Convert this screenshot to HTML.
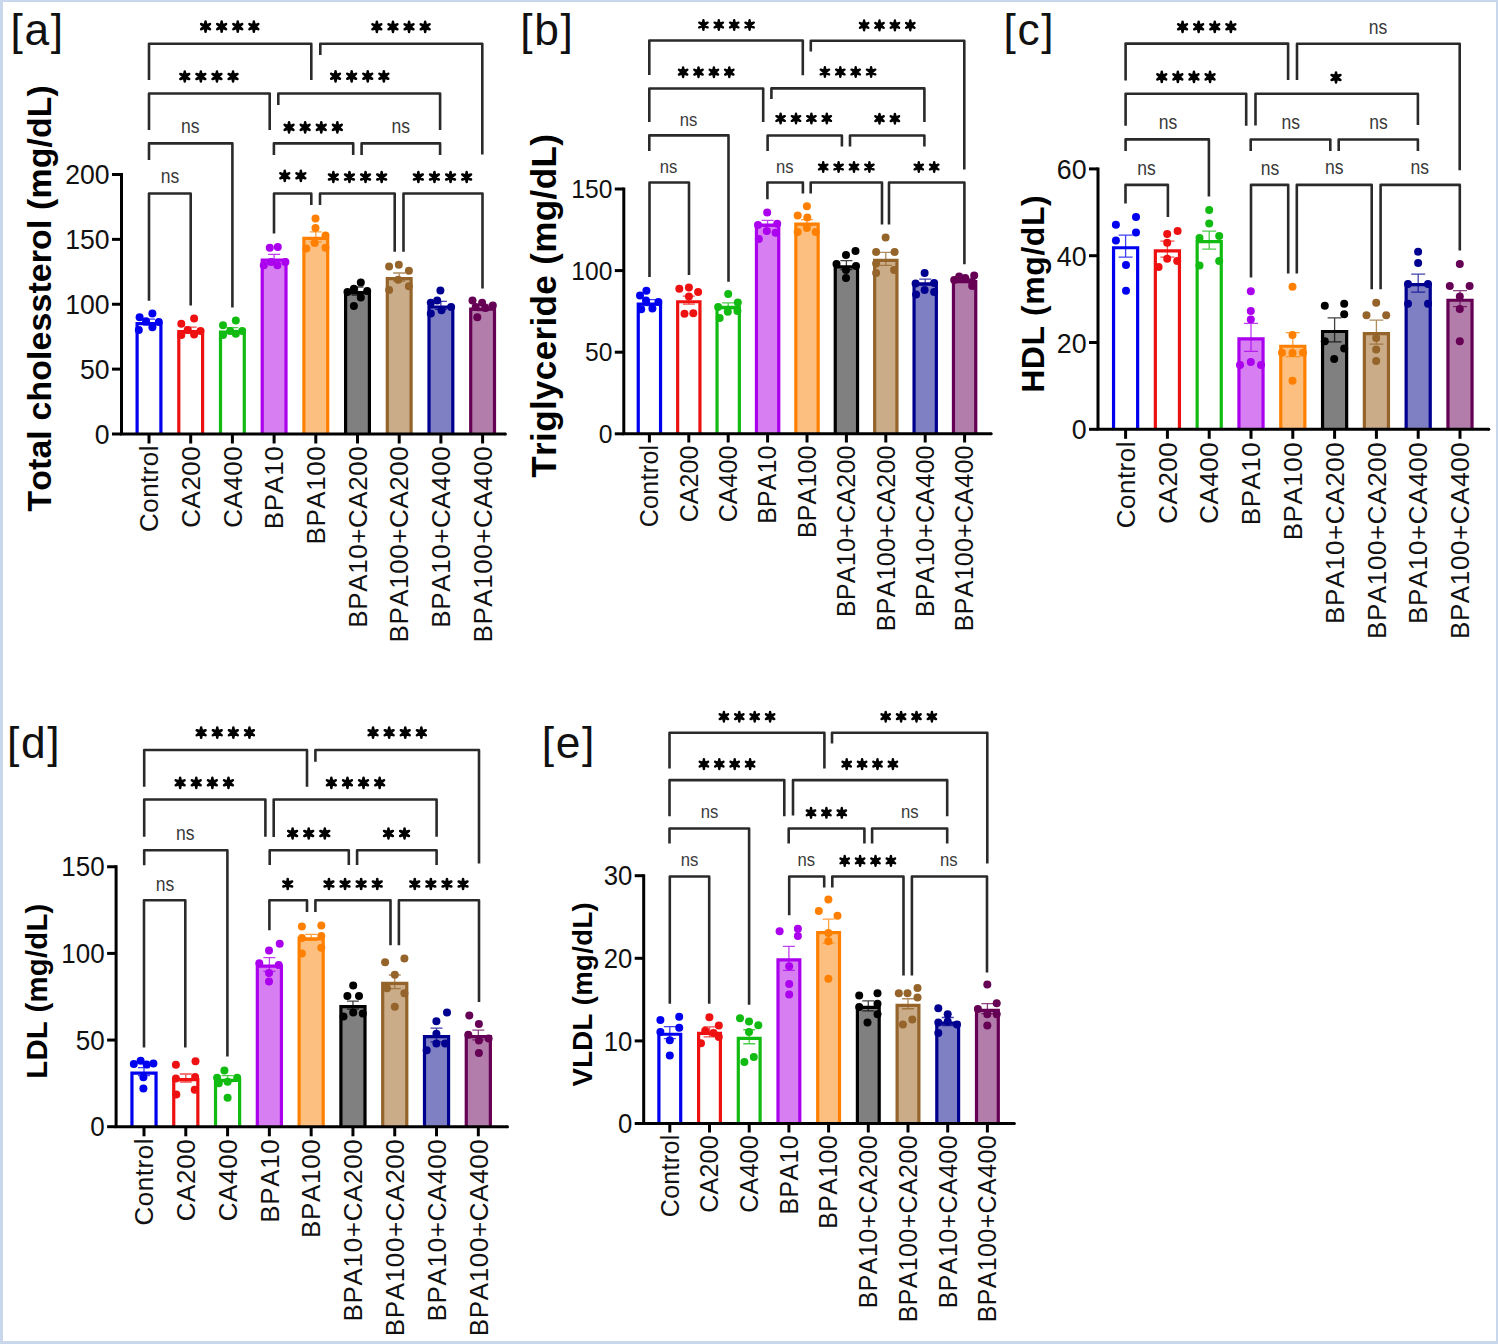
<!DOCTYPE html>
<html><head><meta charset="utf-8"><title>Lipid profile</title>
<style>
html,body{margin:0;padding:0;background:#fff;}
body{width:1498px;height:1344px;overflow:hidden;}
.frame{position:absolute;left:0;top:0;width:1498px;height:1344px;box-sizing:border-box;border-style:solid;border-color:#c8d7ec;border-width:2px 2px 3px 3px;background:#fff;}
svg{position:absolute;left:0;top:0;}
.wrap{position:absolute;left:0;top:0;width:1498px;height:1344px;}
svg text{font-family:'Liberation Sans', sans-serif;font-kerning:none;}
</style></head>
<body>
<div class="frame"></div>
<div class="wrap"><svg width="1498" height="1344" viewBox="0 0 1498 1344" font-family="'Liberation Sans', sans-serif">
<defs><path id="st100" d="M2.25,0.00L1.25,-5.10L-1.25,-5.10L-2.25,-0.00ZM-1.25,-5.10a1.25,1.25 0 1,0 2.50,0a1.25,1.25 0 1,0 -2.50,0ZM1.12,1.95L5.04,-1.47L3.79,-3.63L-1.12,-1.95ZM3.17,-2.55a1.25,1.25 0 1,0 2.50,0a1.25,1.25 0 1,0 -2.50,0ZM-1.12,1.95L3.79,3.63L5.04,1.47L1.12,-1.95ZM3.17,2.55a1.25,1.25 0 1,0 2.50,0a1.25,1.25 0 1,0 -2.50,0ZM-2.25,0.00L-1.25,5.10L1.25,5.10L2.25,-0.00ZM-1.25,5.10a1.25,1.25 0 1,0 2.50,0a1.25,1.25 0 1,0 -2.50,0ZM-1.12,-1.95L-5.04,1.47L-3.79,3.63L1.12,1.95ZM-5.67,2.55a1.25,1.25 0 1,0 2.50,0a1.25,1.25 0 1,0 -2.50,0ZM1.12,-1.95L-3.79,-3.63L-5.04,-1.47L-1.12,1.95ZM-5.67,-2.55a1.25,1.25 0 1,0 2.50,0a1.25,1.25 0 1,0 -2.50,0ZM-2.25,0.00a2.25,2.25 0 1,0 4.50,0a2.25,2.25 0 1,0 -4.50,0Z" fill="#000"/><path id="st95" d="M2.14,0.00L1.19,-4.84L-1.19,-4.84L-2.14,-0.00ZM-1.19,-4.84a1.19,1.19 0 1,0 2.38,0a1.19,1.19 0 1,0 -2.38,0ZM1.07,1.85L4.79,-1.39L3.60,-3.45L-1.07,-1.85ZM3.01,-2.42a1.19,1.19 0 1,0 2.38,0a1.19,1.19 0 1,0 -2.38,0ZM-1.07,1.85L3.60,3.45L4.79,1.39L1.07,-1.85ZM3.01,2.42a1.19,1.19 0 1,0 2.38,0a1.19,1.19 0 1,0 -2.38,0ZM-2.14,0.00L-1.19,4.84L1.19,4.84L2.14,-0.00ZM-1.19,4.84a1.19,1.19 0 1,0 2.38,0a1.19,1.19 0 1,0 -2.38,0ZM-1.07,-1.85L-4.79,1.39L-3.60,3.45L1.07,1.85ZM-5.38,2.42a1.19,1.19 0 1,0 2.38,0a1.19,1.19 0 1,0 -2.38,0ZM1.07,-1.85L-3.60,-3.45L-4.79,-1.39L-1.07,1.85ZM-5.38,-2.42a1.19,1.19 0 1,0 2.38,0a1.19,1.19 0 1,0 -2.38,0ZM-2.14,0.00a2.14,2.14 0 1,0 4.27,0a2.14,2.14 0 1,0 -4.27,0Z" fill="#000"/></defs>
<rect x="137.10" y="323.63" width="23.80" height="110.37" fill="#ffffff"/>
<path d="M137.10,434V323.63H160.90V434" fill="none" stroke="#0000f0" stroke-width="3.2" stroke-linejoin="miter"/>
<rect x="178.80" y="331.67" width="23.80" height="102.33" fill="#ffffff"/>
<path d="M178.80,434V331.67H202.60V434" fill="none" stroke="#ee1111" stroke-width="3.2" stroke-linejoin="miter"/>
<rect x="220.50" y="332.19" width="23.80" height="101.81" fill="#ffffff"/>
<path d="M220.50,434V332.19H244.30V434" fill="none" stroke="#11bb11" stroke-width="3.2" stroke-linejoin="miter"/>
<rect x="262.20" y="260.05" width="23.80" height="173.95" fill="#d77ff2"/>
<path d="M262.20,434V260.05H286.00V434" fill="none" stroke="#aa00ee" stroke-width="3.2" stroke-linejoin="miter"/>
<rect x="303.90" y="238.38" width="23.80" height="195.62" fill="#fdbf80"/>
<path d="M303.90,434V238.38H327.70V434" fill="none" stroke="#ff8000" stroke-width="3.2" stroke-linejoin="miter"/>
<rect x="345.60" y="292.62" width="23.80" height="141.38" fill="#808080"/>
<path d="M345.60,434V292.62H369.40V434" fill="none" stroke="#000000" stroke-width="3.2" stroke-linejoin="miter"/>
<rect x="387.30" y="278.60" width="23.80" height="155.40" fill="#caac89"/>
<path d="M387.30,434V278.60H411.10V434" fill="none" stroke="#94642a" stroke-width="3.2" stroke-linejoin="miter"/>
<rect x="429.00" y="307.02" width="23.80" height="126.98" fill="#7f7fc4"/>
<path d="M429.00,434V307.02H452.80V434" fill="none" stroke="#000090" stroke-width="3.2" stroke-linejoin="miter"/>
<rect x="470.70" y="309.09" width="23.80" height="124.91" fill="#b27daa"/>
<path d="M470.70,434V309.09H494.50V434" fill="none" stroke="#660055" stroke-width="3.2" stroke-linejoin="miter"/>
<path d="M149.0,319.02575V325.02575M143.0,319.02575H155.0M143.0,325.02575H155.0" stroke="#0000f0" stroke-width="1.3" fill="none" opacity="0.75"/>
<circle cx="139.6" cy="317.2" r="4.0" fill="#0000f0"/>
<circle cx="152.4" cy="313.6" r="4.0" fill="#0000f0"/>
<circle cx="158.8" cy="322.0" r="4.0" fill="#0000f0"/>
<circle cx="138.8" cy="330.0" r="4.0" fill="#0000f0"/>
<circle cx="152.4" cy="327.3" r="4.0" fill="#0000f0"/>
<circle cx="146.0" cy="321.3" r="4.0" fill="#0000f0"/>
<path d="M190.7,327.07025V333.07025M184.7,327.07025H196.7M184.7,333.07025H196.7" stroke="#ee1111" stroke-width="1.3" fill="none" opacity="0.75"/>
<circle cx="181.3" cy="323.7" r="4.0" fill="#ee1111"/>
<circle cx="194.1" cy="318.4" r="4.0" fill="#ee1111"/>
<circle cx="187.7" cy="330.0" r="4.0" fill="#ee1111"/>
<circle cx="200.5" cy="330.9" r="4.0" fill="#ee1111"/>
<circle cx="181.3" cy="334.9" r="4.0" fill="#ee1111"/>
<circle cx="194.1" cy="334.5" r="4.0" fill="#ee1111"/>
<path d="M232.4,327.58925V333.58925M226.4,327.58925H238.4M226.4,333.58925H238.4" stroke="#11bb11" stroke-width="1.3" fill="none" opacity="0.75"/>
<circle cx="223.0" cy="325.3" r="4.0" fill="#11bb11"/>
<circle cx="235.8" cy="320.4" r="4.0" fill="#11bb11"/>
<circle cx="242.2" cy="330.9" r="4.0" fill="#11bb11"/>
<circle cx="223.0" cy="334.9" r="4.0" fill="#11bb11"/>
<circle cx="235.8" cy="333.7" r="4.0" fill="#11bb11"/>
<circle cx="230.2" cy="330.9" r="4.0" fill="#11bb11"/>
<path d="M274.1,254.44824999999997V262.44825M268.1,254.44824999999997H280.1M268.1,262.44825H280.1" stroke="#aa00ee" stroke-width="1.3" fill="none" opacity="0.75"/>
<circle cx="269.8" cy="247.7" r="4.0" fill="#aa00ee"/>
<circle cx="277.8" cy="246.9" r="4.0" fill="#aa00ee"/>
<circle cx="263.8" cy="265.3" r="4.0" fill="#aa00ee"/>
<circle cx="277.4" cy="265.3" r="4.0" fill="#aa00ee"/>
<circle cx="285.4" cy="262.0" r="4.0" fill="#aa00ee"/>
<circle cx="271.0" cy="262.0" r="4.0" fill="#aa00ee"/>
<path d="M315.8,231.77999999999997V241.77999999999997M309.8,231.77999999999997H321.8M309.8,241.77999999999997H321.8" stroke="#ff8000" stroke-width="1.3" fill="none" opacity="0.75"/>
<circle cx="315.5" cy="218.4" r="4.0" fill="#ff8000"/>
<circle cx="315.5" cy="228.0" r="4.0" fill="#ff8000"/>
<circle cx="325.5" cy="235.6" r="4.0" fill="#ff8000"/>
<circle cx="314.7" cy="242.9" r="4.0" fill="#ff8000"/>
<circle cx="306.3" cy="248.5" r="4.0" fill="#ff8000"/>
<circle cx="325.5" cy="247.7" r="4.0" fill="#ff8000"/>
<path d="M357.5,287.0155V295.0155M351.5,287.0155H363.5M351.5,295.0155H363.5" stroke="#000000" stroke-width="1.3" fill="none" opacity="0.75"/>
<circle cx="360.8" cy="282.4" r="4.0" fill="#000000"/>
<circle cx="347.5" cy="292.0" r="4.0" fill="#000000"/>
<circle cx="353.9" cy="288.8" r="4.0" fill="#000000"/>
<circle cx="367.2" cy="291.0" r="4.0" fill="#000000"/>
<circle cx="360.8" cy="297.4" r="4.0" fill="#000000"/>
<circle cx="353.9" cy="306.0" r="4.0" fill="#000000"/>
<path d="M399.20000000000005,273.0025V281.0025M393.20000000000005,273.0025H405.20000000000005M393.20000000000005,281.0025H405.20000000000005" stroke="#94642a" stroke-width="1.3" fill="none" opacity="0.75"/>
<circle cx="389.1" cy="266.4" r="4.0" fill="#94642a"/>
<circle cx="398.8" cy="264.8" r="4.0" fill="#94642a"/>
<circle cx="408.9" cy="270.7" r="4.0" fill="#94642a"/>
<circle cx="398.2" cy="279.8" r="4.0" fill="#94642a"/>
<circle cx="389.1" cy="289.9" r="4.0" fill="#94642a"/>
<circle cx="408.9" cy="286.2" r="4.0" fill="#94642a"/>
<path d="M440.90000000000003,301.41774999999996V309.41774999999996M434.90000000000003,301.41774999999996H446.90000000000003M434.90000000000003,309.41774999999996H446.90000000000003" stroke="#000090" stroke-width="1.3" fill="none" opacity="0.75"/>
<circle cx="440.4" cy="290.4" r="4.0" fill="#000090"/>
<circle cx="437.2" cy="300.6" r="4.0" fill="#000090"/>
<circle cx="430.8" cy="302.7" r="4.0" fill="#000090"/>
<circle cx="451.1" cy="307.0" r="4.0" fill="#000090"/>
<circle cx="430.8" cy="313.4" r="4.0" fill="#000090"/>
<circle cx="441.5" cy="310.2" r="4.0" fill="#000090"/>
<path d="M482.6,304.49375V310.49375M476.6,304.49375H488.6M476.6,310.49375H488.6" stroke="#660055" stroke-width="1.3" fill="none" opacity="0.75"/>
<circle cx="472.5" cy="300.6" r="4.0" fill="#660055"/>
<circle cx="482.1" cy="302.7" r="4.0" fill="#660055"/>
<circle cx="492.8" cy="305.4" r="4.0" fill="#660055"/>
<circle cx="475.7" cy="307.0" r="4.0" fill="#660055"/>
<circle cx="485.3" cy="308.1" r="4.0" fill="#660055"/>
<circle cx="477.3" cy="317.2" r="4.0" fill="#660055"/>
<path d="M121.5,173.00V434H505.4" stroke="#000" stroke-width="3.0" fill="none" stroke-linecap="butt" stroke-linejoin="miter"/>
<circle cx="505.4" cy="434" r="1.5" fill="#000"/>
<path d="M112.0,434.00H121.5" stroke="#000" stroke-width="3.0"/>
<text transform="translate(109.6,434.00) scale(1,1.05)" y="9.47" font-size="26.6" text-anchor="end" fill="#111">0</text>
<path d="M112.0,369.12H121.5" stroke="#000" stroke-width="3.0"/>
<text transform="translate(109.6,369.12) scale(1,1.05)" y="9.47" font-size="26.6" text-anchor="end" fill="#111">50</text>
<path d="M112.0,304.25H121.5" stroke="#000" stroke-width="3.0"/>
<text transform="translate(109.6,304.25) scale(1,1.05)" y="9.47" font-size="26.6" text-anchor="end" fill="#111">100</text>
<path d="M112.0,239.37H121.5" stroke="#000" stroke-width="3.0"/>
<text transform="translate(109.6,239.37) scale(1,1.05)" y="9.47" font-size="26.6" text-anchor="end" fill="#111">150</text>
<path d="M112.0,174.50H121.5" stroke="#000" stroke-width="3.0"/>
<text transform="translate(109.6,174.50) scale(1,1.05)" y="9.47" font-size="26.6" text-anchor="end" fill="#111">200</text>
<path d="M149.0,434V443.5" stroke="#000" stroke-width="3.0"/>
<text transform="translate(158.23,488.68) rotate(-90)" font-size="26" text-anchor="middle" textLength="86.45" lengthAdjust="spacing" fill="#111">Control</text>
<path d="M190.7,434V443.5" stroke="#000" stroke-width="3.0"/>
<text transform="translate(199.93,486.95) rotate(-90)" font-size="26" text-anchor="middle" textLength="81.51" lengthAdjust="spacing" fill="#111">CA200</text>
<path d="M232.4,434V443.5" stroke="#000" stroke-width="3.0"/>
<text transform="translate(241.63,486.95) rotate(-90)" font-size="26" text-anchor="middle" textLength="81.51" lengthAdjust="spacing" fill="#111">CA400</text>
<path d="M274.1,434V443.5" stroke="#000" stroke-width="3.0"/>
<text transform="translate(283.33,487.67) rotate(-90)" font-size="26" text-anchor="middle" textLength="82.95" lengthAdjust="spacing" fill="#111">BPA10</text>
<path d="M315.8,434V443.5" stroke="#000" stroke-width="3.0"/>
<text transform="translate(325.03,495.37) rotate(-90)" font-size="26" text-anchor="middle" textLength="98.35" lengthAdjust="spacing" fill="#111">BPA100</text>
<path d="M357.5,434V443.5" stroke="#000" stroke-width="3.0"/>
<text transform="translate(366.73,536.92) rotate(-90)" font-size="26" text-anchor="middle" textLength="181.45" lengthAdjust="spacing" fill="#111">BPA10+CA200</text>
<path d="M399.20000000000005,434V443.5" stroke="#000" stroke-width="3.0"/>
<text transform="translate(408.43,544.32) rotate(-90)" font-size="26" text-anchor="middle" textLength="196.25" lengthAdjust="spacing" fill="#111">BPA100+CA200</text>
<path d="M440.90000000000003,434V443.5" stroke="#000" stroke-width="3.0"/>
<text transform="translate(450.13,536.92) rotate(-90)" font-size="26" text-anchor="middle" textLength="181.45" lengthAdjust="spacing" fill="#111">BPA10+CA400</text>
<path d="M482.6,434V443.5" stroke="#000" stroke-width="3.0"/>
<text transform="translate(491.83,544.32) rotate(-90)" font-size="26" text-anchor="middle" textLength="196.25" lengthAdjust="spacing" fill="#111">BPA100+CA400</text>
<text transform="translate(50.70,298.36) rotate(-90)" font-size="33.8" font-weight="bold" text-anchor="middle" textLength="426.53" lengthAdjust="spacing" fill="#000">Total cholessterol (mg/dL)</text>
<text x="10.6" y="44.7" font-size="44.3" letter-spacing="1.6" fill="#111">[a]</text>
<path d="M149,80V43.7H311.3V80" stroke="#2a2a2a" stroke-width="2.6" fill="none" stroke-linejoin="round"/>
<use href="#st100" x="205.55" y="26.60"/>
<use href="#st100" x="221.65" y="26.60"/>
<use href="#st100" x="237.75" y="26.60"/>
<use href="#st100" x="253.85" y="26.60"/>
<path d="M320.3,54.9V43.7H482.3V154.4" stroke="#2a2a2a" stroke-width="2.6" fill="none" stroke-linejoin="round"/>
<use href="#st100" x="376.85" y="26.80"/>
<use href="#st100" x="392.95" y="26.80"/>
<use href="#st100" x="409.05" y="26.80"/>
<use href="#st100" x="425.15" y="26.80"/>
<path d="M149,130V93.5H269.7V130" stroke="#2a2a2a" stroke-width="2.6" fill="none" stroke-linejoin="round"/>
<use href="#st100" x="184.75" y="76.50"/>
<use href="#st100" x="200.85" y="76.50"/>
<use href="#st100" x="216.95" y="76.50"/>
<use href="#st100" x="233.05" y="76.50"/>
<path d="M278.3,105V93.5H440.1V130" stroke="#2a2a2a" stroke-width="2.6" fill="none" stroke-linejoin="round"/>
<use href="#st100" x="335.55" y="76.30"/>
<use href="#st100" x="351.65" y="76.30"/>
<use href="#st100" x="367.75" y="76.30"/>
<use href="#st100" x="383.85" y="76.30"/>
<path d="M149,160V143.4H232.4V307.5" stroke="#2a2a2a" stroke-width="2.6" fill="none" stroke-linejoin="round"/>
<text x="190.3" y="133.1" font-size="19.5" text-anchor="middle" textLength="18.52" lengthAdjust="spacingAndGlyphs" fill="#383838">ns</text>
<path d="M273.9,155V143.4H353.2V155" stroke="#2a2a2a" stroke-width="2.6" fill="none" stroke-linejoin="round"/>
<use href="#st100" x="289.05" y="127.40"/>
<use href="#st100" x="305.15" y="127.40"/>
<use href="#st100" x="321.25" y="127.40"/>
<use href="#st100" x="337.35" y="127.40"/>
<path d="M361.6,155V143.4H440.1V155" stroke="#2a2a2a" stroke-width="2.6" fill="none" stroke-linejoin="round"/>
<text x="400.7" y="133.4" font-size="19.5" text-anchor="middle" textLength="18.52" lengthAdjust="spacingAndGlyphs" fill="#383838">ns</text>
<path d="M149,300.8V193.5H190.7V305.5" stroke="#2a2a2a" stroke-width="2.6" fill="none" stroke-linejoin="round"/>
<text x="170.0" y="182.9" font-size="19.5" text-anchor="middle" textLength="18.52" lengthAdjust="spacingAndGlyphs" fill="#383838">ns</text>
<path d="M274,233.4V193.5H311.3V205" stroke="#2a2a2a" stroke-width="2.6" fill="none" stroke-linejoin="round"/>
<use href="#st100" x="284.75" y="175.80"/>
<use href="#st100" x="300.85" y="175.80"/>
<path d="M320,205V193.5H394.7V251.8" stroke="#2a2a2a" stroke-width="2.6" fill="none" stroke-linejoin="round"/>
<use href="#st100" x="333.35" y="177.00"/>
<use href="#st100" x="349.45" y="177.00"/>
<use href="#st100" x="365.55" y="177.00"/>
<use href="#st100" x="381.65" y="177.00"/>
<path d="M403.5,251.8V193.5H482.5V288.4" stroke="#2a2a2a" stroke-width="2.6" fill="none" stroke-linejoin="round"/>
<use href="#st100" x="418.35" y="177.00"/>
<use href="#st100" x="434.45" y="177.00"/>
<use href="#st100" x="450.55" y="177.00"/>
<use href="#st100" x="466.65" y="177.00"/>
<rect x="638.25" y="304.19" width="22.30" height="129.61" fill="#ffffff"/>
<path d="M638.25,433.8V304.19H660.55V433.8" fill="none" stroke="#0000f0" stroke-width="3.2" stroke-linejoin="miter"/>
<rect x="677.65" y="301.74" width="22.30" height="132.06" fill="#ffffff"/>
<path d="M677.65,433.8V301.74H699.95V433.8" fill="none" stroke="#ee1111" stroke-width="3.2" stroke-linejoin="miter"/>
<rect x="717.05" y="307.45" width="22.30" height="126.35" fill="#ffffff"/>
<path d="M717.05,433.8V307.45H739.35V433.8" fill="none" stroke="#11bb11" stroke-width="3.2" stroke-linejoin="miter"/>
<rect x="756.45" y="225.04" width="22.30" height="208.76" fill="#d77ff2"/>
<path d="M756.45,433.8V225.04H778.75V433.8" fill="none" stroke="#aa00ee" stroke-width="3.2" stroke-linejoin="miter"/>
<rect x="795.85" y="224.22" width="22.30" height="209.58" fill="#fdbf80"/>
<path d="M795.85,433.8V224.22H818.15V433.8" fill="none" stroke="#ff8000" stroke-width="3.2" stroke-linejoin="miter"/>
<rect x="835.25" y="266.81" width="22.30" height="166.99" fill="#808080"/>
<path d="M835.25,433.8V266.81H857.55V433.8" fill="none" stroke="#000000" stroke-width="3.2" stroke-linejoin="miter"/>
<rect x="874.65" y="260.45" width="22.30" height="173.35" fill="#caac89"/>
<path d="M874.65,433.8V260.45H896.95V433.8" fill="none" stroke="#94642a" stroke-width="3.2" stroke-linejoin="miter"/>
<rect x="914.05" y="283.79" width="22.30" height="150.01" fill="#7f7fc4"/>
<path d="M914.05,433.8V283.79H936.35V433.8" fill="none" stroke="#000090" stroke-width="3.2" stroke-linejoin="miter"/>
<rect x="953.45" y="281.67" width="22.30" height="152.13" fill="#b27daa"/>
<path d="M953.45,433.8V281.67H975.75V433.8" fill="none" stroke="#660055" stroke-width="3.2" stroke-linejoin="miter"/>
<path d="M649.4,299.58720000000005V305.58720000000005M643.4,299.58720000000005H655.4M643.4,305.58720000000005H655.4" stroke="#0000f0" stroke-width="1.3" fill="none" opacity="0.75"/>
<circle cx="646.4" cy="290.8" r="4.0" fill="#0000f0"/>
<circle cx="640.0" cy="295.6" r="4.0" fill="#0000f0"/>
<circle cx="646.0" cy="300.4" r="4.0" fill="#0000f0"/>
<circle cx="658.4" cy="302.0" r="4.0" fill="#0000f0"/>
<circle cx="641.2" cy="309.3" r="4.0" fill="#0000f0"/>
<circle cx="652.4" cy="308.5" r="4.0" fill="#0000f0"/>
<path d="M688.8,296.1392V304.1392M682.8,296.1392H694.8M682.8,304.1392H694.8" stroke="#ee1111" stroke-width="1.3" fill="none" opacity="0.75"/>
<circle cx="679.3" cy="288.8" r="4.0" fill="#ee1111"/>
<circle cx="688.9" cy="287.6" r="4.0" fill="#ee1111"/>
<circle cx="698.1" cy="292.0" r="4.0" fill="#ee1111"/>
<circle cx="688.9" cy="296.4" r="4.0" fill="#ee1111"/>
<circle cx="684.5" cy="313.7" r="4.0" fill="#ee1111"/>
<circle cx="693.3" cy="313.3" r="4.0" fill="#ee1111"/>
<path d="M728.1999999999999,302.8512V308.8512M722.1999999999999,302.8512H734.1999999999999M722.1999999999999,308.8512H734.1999999999999" stroke="#11bb11" stroke-width="1.3" fill="none" opacity="0.75"/>
<circle cx="728.2" cy="294.0" r="4.0" fill="#11bb11"/>
<circle cx="737.8" cy="302.5" r="4.0" fill="#11bb11"/>
<circle cx="718.1" cy="306.9" r="4.0" fill="#11bb11"/>
<circle cx="727.8" cy="311.7" r="4.0" fill="#11bb11"/>
<circle cx="737.4" cy="310.9" r="4.0" fill="#11bb11"/>
<circle cx="719.7" cy="318.1" r="4.0" fill="#11bb11"/>
<path d="M767.5999999999999,220.4352V226.4352M761.5999999999999,220.4352H773.5999999999999M761.5999999999999,226.4352H773.5999999999999" stroke="#aa00ee" stroke-width="1.3" fill="none" opacity="0.75"/>
<circle cx="767.2" cy="212.6" r="4.0" fill="#aa00ee"/>
<circle cx="758.0" cy="225.0" r="4.0" fill="#aa00ee"/>
<circle cx="777.2" cy="223.8" r="4.0" fill="#aa00ee"/>
<circle cx="766.8" cy="231.1" r="4.0" fill="#aa00ee"/>
<circle cx="775.6" cy="232.7" r="4.0" fill="#aa00ee"/>
<circle cx="758.8" cy="239.1" r="4.0" fill="#aa00ee"/>
<path d="M807.0,219.6192V225.6192M801.0,219.6192H813.0M801.0,225.6192H813.0" stroke="#ff8000" stroke-width="1.3" fill="none" opacity="0.75"/>
<circle cx="806.9" cy="206.2" r="4.0" fill="#ff8000"/>
<circle cx="797.7" cy="215.4" r="4.0" fill="#ff8000"/>
<circle cx="807.3" cy="217.4" r="4.0" fill="#ff8000"/>
<circle cx="806.9" cy="227.9" r="4.0" fill="#ff8000"/>
<circle cx="797.7" cy="231.9" r="4.0" fill="#ff8000"/>
<circle cx="815.7" cy="231.9" r="4.0" fill="#ff8000"/>
<path d="M846.4,260.71440000000007V269.71440000000007M840.4,260.71440000000007H852.4M840.4,269.71440000000007H852.4" stroke="#000000" stroke-width="1.3" fill="none" opacity="0.75"/>
<circle cx="846.0" cy="255.0" r="4.0" fill="#000000"/>
<circle cx="855.5" cy="251.0" r="4.0" fill="#000000"/>
<circle cx="836.5" cy="264.0" r="4.0" fill="#000000"/>
<circle cx="846.0" cy="270.0" r="4.0" fill="#000000"/>
<circle cx="846.0" cy="278.1" r="4.0" fill="#000000"/>
<circle cx="856.0" cy="266.0" r="4.0" fill="#000000"/>
<path d="M885.8,252.3496V265.3496M879.8,252.3496H891.8M879.8,265.3496H891.8" stroke="#94642a" stroke-width="1.3" fill="none" opacity="0.75"/>
<circle cx="885.6" cy="237.5" r="4.0" fill="#94642a"/>
<circle cx="876.1" cy="252.0" r="4.0" fill="#94642a"/>
<circle cx="894.6" cy="252.0" r="4.0" fill="#94642a"/>
<circle cx="876.1" cy="263.5" r="4.0" fill="#94642a"/>
<circle cx="894.1" cy="270.0" r="4.0" fill="#94642a"/>
<circle cx="876.1" cy="273.0" r="4.0" fill="#94642a"/>
<path d="M925.2,279.1872V285.1872M919.2,279.1872H931.2M919.2,285.1872H931.2" stroke="#000090" stroke-width="1.3" fill="none" opacity="0.75"/>
<circle cx="924.6" cy="273.0" r="4.0" fill="#000090"/>
<circle cx="915.6" cy="283.6" r="4.0" fill="#000090"/>
<circle cx="934.1" cy="283.1" r="4.0" fill="#000090"/>
<circle cx="924.6" cy="290.1" r="4.0" fill="#000090"/>
<circle cx="916.1" cy="294.6" r="4.0" fill="#000090"/>
<circle cx="934.1" cy="292.1" r="4.0" fill="#000090"/>
<path d="M964.5999999999999,278.0656V282.0656M958.5999999999999,278.0656H970.5999999999999M958.5999999999999,282.0656H970.5999999999999" stroke="#660055" stroke-width="1.3" fill="none" opacity="0.75"/>
<circle cx="959.2" cy="276.6" r="4.0" fill="#660055"/>
<circle cx="965.2" cy="278.1" r="4.0" fill="#660055"/>
<circle cx="974.2" cy="275.6" r="4.0" fill="#660055"/>
<circle cx="954.2" cy="280.1" r="4.0" fill="#660055"/>
<circle cx="972.2" cy="282.1" r="4.0" fill="#660055"/>
<circle cx="972.2" cy="286.1" r="4.0" fill="#660055"/>
<path d="M623.8,187.50V433.8H991.2" stroke="#000" stroke-width="3.0" fill="none" stroke-linecap="butt" stroke-linejoin="miter"/>
<circle cx="991.2" cy="433.8" r="1.5" fill="#000"/>
<path d="M614.8,433.80H623.8" stroke="#000" stroke-width="3.0"/>
<text transform="translate(612.4,433.80) scale(1,1.05)" y="8.76" font-size="24.6" text-anchor="end" fill="#111">0</text>
<path d="M614.8,352.20H623.8" stroke="#000" stroke-width="3.0"/>
<text transform="translate(612.4,352.20) scale(1,1.05)" y="8.76" font-size="24.6" text-anchor="end" fill="#111">50</text>
<path d="M614.8,270.60H623.8" stroke="#000" stroke-width="3.0"/>
<text transform="translate(612.4,270.60) scale(1,1.05)" y="8.76" font-size="24.6" text-anchor="end" fill="#111">100</text>
<path d="M614.8,189.00H623.8" stroke="#000" stroke-width="3.0"/>
<text transform="translate(612.4,189.00) scale(1,1.05)" y="8.76" font-size="24.6" text-anchor="end" fill="#111">150</text>
<path d="M649.4,433.8V442.5" stroke="#000" stroke-width="3.0"/>
<text transform="translate(658.27,486.09) rotate(-90)" font-size="25" text-anchor="middle" textLength="82.53" lengthAdjust="spacing" fill="#111">Control</text>
<path d="M688.8,433.8V442.5" stroke="#000" stroke-width="3.0"/>
<text transform="translate(697.67,483.94) rotate(-90)" font-size="25" text-anchor="middle" textLength="76.82" lengthAdjust="spacing" fill="#111">CA200</text>
<path d="M728.1999999999999,433.8V442.5" stroke="#000" stroke-width="3.0"/>
<text transform="translate(737.07,483.94) rotate(-90)" font-size="25" text-anchor="middle" textLength="76.82" lengthAdjust="spacing" fill="#111">CA400</text>
<path d="M767.5999999999999,433.8V442.5" stroke="#000" stroke-width="3.0"/>
<text transform="translate(776.47,484.60) rotate(-90)" font-size="25" text-anchor="middle" textLength="78.13" lengthAdjust="spacing" fill="#111">BPA10</text>
<path d="M807.0,433.8V442.5" stroke="#000" stroke-width="3.0"/>
<text transform="translate(815.88,491.80) rotate(-90)" font-size="25" text-anchor="middle" textLength="92.53" lengthAdjust="spacing" fill="#111">BPA100</text>
<path d="M846.4,433.8V442.5" stroke="#000" stroke-width="3.0"/>
<text transform="translate(855.27,531.30) rotate(-90)" font-size="25" text-anchor="middle" textLength="171.53" lengthAdjust="spacing" fill="#111">BPA10+CA200</text>
<path d="M885.8,433.8V442.5" stroke="#000" stroke-width="3.0"/>
<text transform="translate(894.67,538.35) rotate(-90)" font-size="25" text-anchor="middle" textLength="185.63" lengthAdjust="spacing" fill="#111">BPA100+CA200</text>
<path d="M925.2,433.8V442.5" stroke="#000" stroke-width="3.0"/>
<text transform="translate(934.08,531.30) rotate(-90)" font-size="25" text-anchor="middle" textLength="171.53" lengthAdjust="spacing" fill="#111">BPA10+CA400</text>
<path d="M964.5999999999999,433.8V442.5" stroke="#000" stroke-width="3.0"/>
<text transform="translate(973.47,538.35) rotate(-90)" font-size="25" text-anchor="middle" textLength="185.63" lengthAdjust="spacing" fill="#111">BPA100+CA400</text>
<text transform="translate(555.80,305.93) rotate(-90)" font-size="35" font-weight="bold" text-anchor="middle" textLength="343.61" lengthAdjust="spacing" fill="#000">Triglyceride (mg/dL)</text>
<text x="520.3" y="44.7" font-size="44.3" letter-spacing="1.6" fill="#111">[b]</text>
<path d="M649.3,75.1V40.5H802.8V75.2" stroke="#2a2a2a" stroke-width="2.6" fill="none" stroke-linejoin="round"/>
<use href="#st95" x="703.40" y="25.00"/>
<use href="#st95" x="718.80" y="25.00"/>
<use href="#st95" x="734.20" y="25.00"/>
<use href="#st95" x="749.60" y="25.00"/>
<path d="M810.8,51.5V40.7H964.3V169.4" stroke="#2a2a2a" stroke-width="2.6" fill="none" stroke-linejoin="round"/>
<use href="#st95" x="864.10" y="25.40"/>
<use href="#st95" x="879.50" y="25.40"/>
<use href="#st95" x="894.90" y="25.40"/>
<use href="#st95" x="910.30" y="25.40"/>
<path d="M649.3,122V88.5H763.2V122" stroke="#2a2a2a" stroke-width="2.6" fill="none" stroke-linejoin="round"/>
<use href="#st95" x="683.10" y="72.20"/>
<use href="#st95" x="698.50" y="72.20"/>
<use href="#st95" x="713.90" y="72.20"/>
<use href="#st95" x="729.30" y="72.20"/>
<path d="M771.4,99V88.4H924.4V122" stroke="#2a2a2a" stroke-width="2.6" fill="none" stroke-linejoin="round"/>
<use href="#st95" x="824.90" y="72.00"/>
<use href="#st95" x="840.30" y="72.00"/>
<use href="#st95" x="855.70" y="72.00"/>
<use href="#st95" x="871.10" y="72.00"/>
<path d="M649.3,151V135.4H728.5V281.7" stroke="#2a2a2a" stroke-width="2.6" fill="none" stroke-linejoin="round"/>
<text x="688.5" y="125.7" font-size="18.5" text-anchor="middle" textLength="17.57" lengthAdjust="spacingAndGlyphs" fill="#383838">ns</text>
<path d="M767.6,151V135.5H841.9V146.5" stroke="#2a2a2a" stroke-width="2.6" fill="none" stroke-linejoin="round"/>
<use href="#st95" x="780.60" y="118.50"/>
<use href="#st95" x="796.00" y="118.50"/>
<use href="#st95" x="811.40" y="118.50"/>
<use href="#st95" x="826.80" y="118.50"/>
<path d="M850,146.5V135.5H924.4V146.5" stroke="#2a2a2a" stroke-width="2.6" fill="none" stroke-linejoin="round"/>
<use href="#st95" x="879.50" y="118.70"/>
<use href="#st95" x="894.90" y="118.70"/>
<path d="M649.5,277V182.5H689V275" stroke="#2a2a2a" stroke-width="2.6" fill="none" stroke-linejoin="round"/>
<text x="668.5" y="173.2" font-size="18.5" text-anchor="middle" textLength="17.57" lengthAdjust="spacingAndGlyphs" fill="#383838">ns</text>
<path d="M767.4,199.3V182.5H802.9V193.5" stroke="#2a2a2a" stroke-width="2.6" fill="none" stroke-linejoin="round"/>
<text x="784.8" y="173.2" font-size="18.5" text-anchor="middle" textLength="17.57" lengthAdjust="spacingAndGlyphs" fill="#383838">ns</text>
<path d="M810.7,193.5V182.5H882V224.5" stroke="#2a2a2a" stroke-width="2.6" fill="none" stroke-linejoin="round"/>
<use href="#st95" x="823.20" y="167.00"/>
<use href="#st95" x="838.60" y="167.00"/>
<use href="#st95" x="854.00" y="167.00"/>
<use href="#st95" x="869.40" y="167.00"/>
<path d="M889,224.5V182.5H964.4V264.2" stroke="#2a2a2a" stroke-width="2.6" fill="none" stroke-linejoin="round"/>
<use href="#st95" x="918.80" y="167.00"/>
<use href="#st95" x="934.20" y="167.00"/>
<rect x="1113.55" y="247.75" width="24.10" height="181.55" fill="#ffffff"/>
<path d="M1113.55,429.3V247.75H1137.65V429.3" fill="none" stroke="#0000f0" stroke-width="3.2" stroke-linejoin="miter"/>
<rect x="1155.35" y="250.79" width="24.10" height="178.51" fill="#ffffff"/>
<path d="M1155.35,429.3V250.79H1179.45V429.3" fill="none" stroke="#ee1111" stroke-width="3.2" stroke-linejoin="miter"/>
<rect x="1197.15" y="241.68" width="24.10" height="187.62" fill="#ffffff"/>
<path d="M1197.15,429.3V241.68H1221.25V429.3" fill="none" stroke="#11bb11" stroke-width="3.2" stroke-linejoin="miter"/>
<rect x="1238.95" y="338.89" width="24.10" height="90.41" fill="#d77ff2"/>
<path d="M1238.95,429.3V338.89H1263.05V429.3" fill="none" stroke="#aa00ee" stroke-width="3.2" stroke-linejoin="miter"/>
<rect x="1280.75" y="346.27" width="24.10" height="83.03" fill="#fdbf80"/>
<path d="M1280.75,429.3V346.27H1304.85V429.3" fill="none" stroke="#ff8000" stroke-width="3.2" stroke-linejoin="miter"/>
<rect x="1322.55" y="331.51" width="24.10" height="97.79" fill="#808080"/>
<path d="M1322.55,429.3V331.51H1346.65V429.3" fill="none" stroke="#000000" stroke-width="3.2" stroke-linejoin="miter"/>
<rect x="1364.35" y="333.68" width="24.10" height="95.62" fill="#caac89"/>
<path d="M1364.35,429.3V333.68H1388.45V429.3" fill="none" stroke="#94642a" stroke-width="3.2" stroke-linejoin="miter"/>
<rect x="1406.15" y="284.64" width="24.10" height="144.66" fill="#7f7fc4"/>
<path d="M1406.15,429.3V284.64H1430.25V429.3" fill="none" stroke="#000090" stroke-width="3.2" stroke-linejoin="miter"/>
<rect x="1447.95" y="300.27" width="24.10" height="129.03" fill="#b27daa"/>
<path d="M1447.95,429.3V300.27H1472.05V429.3" fill="none" stroke="#660055" stroke-width="3.2" stroke-linejoin="miter"/>
<path d="M1125.6,235.15200000000002V257.15200000000004M1118.6,235.15200000000002H1132.6M1118.6,257.15200000000004H1132.6" stroke="#0000f0" stroke-width="1.3" fill="none" opacity="0.75"/>
<circle cx="1115.9" cy="224.8" r="4.0" fill="#0000f0"/>
<circle cx="1136.0" cy="217.0" r="4.0" fill="#0000f0"/>
<circle cx="1136.0" cy="232.6" r="4.0" fill="#0000f0"/>
<circle cx="1115.9" cy="240.4" r="4.0" fill="#0000f0"/>
<circle cx="1126.0" cy="265.0" r="4.0" fill="#0000f0"/>
<circle cx="1126.0" cy="290.7" r="4.0" fill="#0000f0"/>
<path d="M1167.3999999999999,241.19000000000003V257.19000000000005M1160.3999999999999,241.19000000000003H1174.3999999999999M1160.3999999999999,257.19000000000005H1174.3999999999999" stroke="#ee1111" stroke-width="1.3" fill="none" opacity="0.75"/>
<circle cx="1167.2" cy="233.9" r="4.0" fill="#ee1111"/>
<circle cx="1177.6" cy="230.9" r="4.0" fill="#ee1111"/>
<circle cx="1167.2" cy="242.8" r="4.0" fill="#ee1111"/>
<circle cx="1167.2" cy="258.8" r="4.0" fill="#ee1111"/>
<circle cx="1177.2" cy="261.0" r="4.0" fill="#ee1111"/>
<circle cx="1158.6" cy="267.0" r="4.0" fill="#ee1111"/>
<path d="M1209.1999999999998,231.07600000000002V249.07600000000002M1202.1999999999998,231.07600000000002H1216.1999999999998M1202.1999999999998,249.07600000000002H1216.1999999999998" stroke="#11bb11" stroke-width="1.3" fill="none" opacity="0.75"/>
<circle cx="1209.2" cy="210.0" r="4.0" fill="#11bb11"/>
<circle cx="1209.2" cy="223.4" r="4.0" fill="#11bb11"/>
<circle cx="1199.5" cy="238.0" r="4.0" fill="#11bb11"/>
<circle cx="1219.2" cy="236.1" r="4.0" fill="#11bb11"/>
<circle cx="1199.5" cy="265.5" r="4.0" fill="#11bb11"/>
<circle cx="1219.2" cy="261.0" r="4.0" fill="#11bb11"/>
<path d="M1251.0,323.29200000000003V351.29200000000003M1244.0,323.29200000000003H1258.0M1244.0,351.29200000000003H1258.0" stroke="#aa00ee" stroke-width="1.3" fill="none" opacity="0.75"/>
<circle cx="1250.8" cy="291.2" r="4.0" fill="#aa00ee"/>
<circle cx="1250.8" cy="311.0" r="4.0" fill="#aa00ee"/>
<circle cx="1250.8" cy="319.4" r="4.0" fill="#aa00ee"/>
<circle cx="1240.0" cy="365.0" r="4.0" fill="#aa00ee"/>
<circle cx="1250.8" cy="362.0" r="4.0" fill="#aa00ee"/>
<circle cx="1261.0" cy="365.0" r="4.0" fill="#aa00ee"/>
<path d="M1292.8,332.67V356.67M1285.8,332.67H1299.8M1285.8,356.67H1299.8" stroke="#ff8000" stroke-width="1.3" fill="none" opacity="0.75"/>
<circle cx="1292.5" cy="286.7" r="4.0" fill="#ff8000"/>
<circle cx="1292.5" cy="335.0" r="4.0" fill="#ff8000"/>
<circle cx="1282.0" cy="352.7" r="4.0" fill="#ff8000"/>
<circle cx="1292.5" cy="353.0" r="4.0" fill="#ff8000"/>
<circle cx="1303.0" cy="352.7" r="4.0" fill="#ff8000"/>
<circle cx="1292.5" cy="380.8" r="4.0" fill="#ff8000"/>
<path d="M1334.6,317.914V341.914M1327.6,317.914H1341.6M1327.6,341.914H1341.6" stroke="#000000" stroke-width="1.3" fill="none" opacity="0.75"/>
<circle cx="1324.8" cy="305.8" r="4.0" fill="#000000"/>
<circle cx="1344.2" cy="303.8" r="4.0" fill="#000000"/>
<circle cx="1344.2" cy="314.2" r="4.0" fill="#000000"/>
<circle cx="1324.8" cy="341.2" r="4.0" fill="#000000"/>
<circle cx="1344.2" cy="348.5" r="4.0" fill="#000000"/>
<circle cx="1334.2" cy="359.0" r="4.0" fill="#000000"/>
<path d="M1376.3999999999999,320.084V344.084M1369.3999999999999,320.084H1383.3999999999999M1369.3999999999999,344.084H1383.3999999999999" stroke="#94642a" stroke-width="1.3" fill="none" opacity="0.75"/>
<circle cx="1376.2" cy="302.7" r="4.0" fill="#94642a"/>
<circle cx="1366.5" cy="315.2" r="4.0" fill="#94642a"/>
<circle cx="1386.2" cy="315.2" r="4.0" fill="#94642a"/>
<circle cx="1376.2" cy="338.0" r="4.0" fill="#94642a"/>
<circle cx="1376.2" cy="349.6" r="4.0" fill="#94642a"/>
<circle cx="1376.2" cy="361.0" r="4.0" fill="#94642a"/>
<path d="M1418.1999999999998,274.04200000000003V292.04200000000003M1411.1999999999998,274.04200000000003H1425.1999999999998M1411.1999999999998,292.04200000000003H1425.1999999999998" stroke="#000090" stroke-width="1.3" fill="none" opacity="0.75"/>
<circle cx="1418.1" cy="251.7" r="4.0" fill="#000090"/>
<circle cx="1418.1" cy="263.0" r="4.0" fill="#000090"/>
<circle cx="1408.0" cy="284.0" r="4.0" fill="#000090"/>
<circle cx="1428.0" cy="284.0" r="4.0" fill="#000090"/>
<circle cx="1408.0" cy="303.8" r="4.0" fill="#000090"/>
<circle cx="1428.0" cy="303.8" r="4.0" fill="#000090"/>
<path d="M1460.0,290.666V306.666M1453.0,290.666H1467.0M1453.0,306.666H1467.0" stroke="#660055" stroke-width="1.3" fill="none" opacity="0.75"/>
<circle cx="1459.8" cy="264.0" r="4.0" fill="#660055"/>
<circle cx="1449.8" cy="286.0" r="4.0" fill="#660055"/>
<circle cx="1469.6" cy="286.0" r="4.0" fill="#660055"/>
<circle cx="1459.8" cy="296.5" r="4.0" fill="#660055"/>
<circle cx="1459.8" cy="309.0" r="4.0" fill="#660055"/>
<circle cx="1459.8" cy="341.2" r="4.0" fill="#660055"/>
<path d="M1098,167.40V429.3H1488.8" stroke="#000" stroke-width="3.0" fill="none" stroke-linecap="butt" stroke-linejoin="miter"/>
<circle cx="1488.8" cy="429.3" r="1.5" fill="#000"/>
<path d="M1089,429.30H1098" stroke="#000" stroke-width="3.0"/>
<text transform="translate(1086.6,429.30) scale(1,1.05)" y="9.54" font-size="26.8" text-anchor="end" fill="#111">0</text>
<path d="M1089,342.50H1098" stroke="#000" stroke-width="3.0"/>
<text transform="translate(1086.6,342.50) scale(1,1.05)" y="9.54" font-size="26.8" text-anchor="end" fill="#111">20</text>
<path d="M1089,255.70H1098" stroke="#000" stroke-width="3.0"/>
<text transform="translate(1086.6,255.70) scale(1,1.05)" y="9.54" font-size="26.8" text-anchor="end" fill="#111">40</text>
<path d="M1089,168.90H1098" stroke="#000" stroke-width="3.0"/>
<text transform="translate(1086.6,168.90) scale(1,1.05)" y="9.54" font-size="26.8" text-anchor="end" fill="#111">60</text>
<path d="M1125.6,429.3V438.8" stroke="#000" stroke-width="3.0"/>
<text transform="translate(1134.83,484.88) rotate(-90)" font-size="26" text-anchor="middle" textLength="86.85" lengthAdjust="spacing" fill="#111">Control</text>
<path d="M1167.3999999999999,429.3V438.8" stroke="#000" stroke-width="3.0"/>
<text transform="translate(1176.63,482.95) rotate(-90)" font-size="26" text-anchor="middle" textLength="81.51" lengthAdjust="spacing" fill="#111">CA200</text>
<path d="M1209.1999999999998,429.3V438.8" stroke="#000" stroke-width="3.0"/>
<text transform="translate(1218.43,482.95) rotate(-90)" font-size="26" text-anchor="middle" textLength="81.51" lengthAdjust="spacing" fill="#111">CA400</text>
<path d="M1251.0,429.3V438.8" stroke="#000" stroke-width="3.0"/>
<text transform="translate(1260.23,483.67) rotate(-90)" font-size="26" text-anchor="middle" textLength="82.95" lengthAdjust="spacing" fill="#111">BPA10</text>
<path d="M1292.8,429.3V438.8" stroke="#000" stroke-width="3.0"/>
<text transform="translate(1302.03,491.22) rotate(-90)" font-size="26" text-anchor="middle" textLength="98.05" lengthAdjust="spacing" fill="#111">BPA100</text>
<path d="M1334.6,429.3V438.8" stroke="#000" stroke-width="3.0"/>
<text transform="translate(1343.83,533.12) rotate(-90)" font-size="26" text-anchor="middle" textLength="181.85" lengthAdjust="spacing" fill="#111">BPA10+CA200</text>
<path d="M1376.3999999999999,429.3V438.8" stroke="#000" stroke-width="3.0"/>
<text transform="translate(1385.63,540.62) rotate(-90)" font-size="26" text-anchor="middle" textLength="196.85" lengthAdjust="spacing" fill="#111">BPA100+CA200</text>
<path d="M1418.1999999999998,429.3V438.8" stroke="#000" stroke-width="3.0"/>
<text transform="translate(1427.43,533.12) rotate(-90)" font-size="26" text-anchor="middle" textLength="181.85" lengthAdjust="spacing" fill="#111">BPA10+CA400</text>
<path d="M1460.0,429.3V438.8" stroke="#000" stroke-width="3.0"/>
<text transform="translate(1469.23,540.62) rotate(-90)" font-size="26" text-anchor="middle" textLength="196.85" lengthAdjust="spacing" fill="#111">BPA100+CA400</text>
<text transform="translate(1043.50,294.07) rotate(-90)" font-size="32" font-weight="bold" text-anchor="middle" textLength="197.58" lengthAdjust="spacing" fill="#000">HDL (mg/dL)</text>
<text x="1003.5" y="44.7" font-size="44.3" letter-spacing="1.6" fill="#111">[c]</text>
<path d="M1125.6,80.4V43.6H1288.1V80" stroke="#2a2a2a" stroke-width="2.6" fill="none" stroke-linejoin="round"/>
<use href="#st100" x="1182.55" y="26.80"/>
<use href="#st100" x="1198.65" y="26.80"/>
<use href="#st100" x="1214.75" y="26.80"/>
<use href="#st100" x="1230.85" y="26.80"/>
<path d="M1297,80V43.8H1459.7V170.3" stroke="#2a2a2a" stroke-width="2.6" fill="none" stroke-linejoin="round"/>
<text x="1378.1" y="33.5" font-size="19.5" text-anchor="middle" textLength="18.52" lengthAdjust="spacingAndGlyphs" fill="#383838">ns</text>
<path d="M1125.6,125.7V93.75H1246.2V125.7" stroke="#2a2a2a" stroke-width="2.6" fill="none" stroke-linejoin="round"/>
<use href="#st100" x="1161.75" y="76.90"/>
<use href="#st100" x="1177.85" y="76.90"/>
<use href="#st100" x="1193.95" y="76.90"/>
<use href="#st100" x="1210.05" y="76.90"/>
<path d="M1255.5,125.5V93.75H1417.9V124.9" stroke="#2a2a2a" stroke-width="2.6" fill="none" stroke-linejoin="round"/>
<use href="#st100" x="1336.00" y="77.50"/>
<path d="M1125.6,151V139.4H1208.9V196.6" stroke="#2a2a2a" stroke-width="2.6" fill="none" stroke-linejoin="round"/>
<text x="1168.0" y="128.6" font-size="19.5" text-anchor="middle" textLength="18.52" lengthAdjust="spacingAndGlyphs" fill="#383838">ns</text>
<path d="M1250.7,151V139.5H1330.3V150.9" stroke="#2a2a2a" stroke-width="2.6" fill="none" stroke-linejoin="round"/>
<text x="1290.7" y="129.1" font-size="19.5" text-anchor="middle" textLength="18.52" lengthAdjust="spacingAndGlyphs" fill="#383838">ns</text>
<path d="M1338.7,150.9V139.5H1417.9V150.9" stroke="#2a2a2a" stroke-width="2.6" fill="none" stroke-linejoin="round"/>
<text x="1378.6" y="129.2" font-size="19.5" text-anchor="middle" textLength="18.52" lengthAdjust="spacingAndGlyphs" fill="#383838">ns</text>
<path d="M1125.5,203.6V184.9H1167.9V217" stroke="#2a2a2a" stroke-width="2.6" fill="none" stroke-linejoin="round"/>
<text x="1146.5" y="174.7" font-size="19.5" text-anchor="middle" textLength="18.52" lengthAdjust="spacingAndGlyphs" fill="#383838">ns</text>
<path d="M1251,277.5V184.9H1288.2V273.5" stroke="#2a2a2a" stroke-width="2.6" fill="none" stroke-linejoin="round"/>
<text x="1270.0" y="174.7" font-size="19.5" text-anchor="middle" textLength="18.52" lengthAdjust="spacingAndGlyphs" fill="#383838">ns</text>
<path d="M1296.8,273.5V184.9H1371.7V289.2" stroke="#2a2a2a" stroke-width="2.6" fill="none" stroke-linejoin="round"/>
<text x="1334.3" y="173.8" font-size="19.5" text-anchor="middle" textLength="18.52" lengthAdjust="spacingAndGlyphs" fill="#383838">ns</text>
<path d="M1380.6,289.2V184.9H1459.8V250.6" stroke="#2a2a2a" stroke-width="2.6" fill="none" stroke-linejoin="round"/>
<text x="1419.8" y="173.8" font-size="19.5" text-anchor="middle" textLength="18.52" lengthAdjust="spacingAndGlyphs" fill="#383838">ns</text>
<rect x="131.95" y="1073.19" width="24.10" height="53.51" fill="#ffffff"/>
<path d="M131.95,1126.7V1073.19H156.05V1126.7" fill="none" stroke="#0000f0" stroke-width="3.2" stroke-linejoin="miter"/>
<rect x="173.74" y="1079.60" width="24.10" height="47.10" fill="#ffffff"/>
<path d="M173.74,1126.7V1079.60H197.84V1126.7" fill="none" stroke="#ee1111" stroke-width="3.2" stroke-linejoin="miter"/>
<rect x="215.53" y="1080.30" width="24.10" height="46.40" fill="#ffffff"/>
<path d="M215.53,1126.7V1080.30H239.63V1126.7" fill="none" stroke="#11bb11" stroke-width="3.2" stroke-linejoin="miter"/>
<rect x="257.32" y="966.09" width="24.10" height="160.61" fill="#d77ff2"/>
<path d="M257.32,1126.7V966.09H281.42V1126.7" fill="none" stroke="#aa00ee" stroke-width="3.2" stroke-linejoin="miter"/>
<rect x="299.11" y="938.88" width="24.10" height="187.82" fill="#fdbf80"/>
<path d="M299.11,1126.7V938.88H323.21V1126.7" fill="none" stroke="#ff8000" stroke-width="3.2" stroke-linejoin="miter"/>
<rect x="340.90" y="1006.64" width="24.10" height="120.06" fill="#808080"/>
<path d="M340.90,1126.7V1006.64H365.00V1126.7" fill="none" stroke="#000000" stroke-width="3.2" stroke-linejoin="miter"/>
<rect x="382.69" y="983.42" width="24.10" height="143.28" fill="#caac89"/>
<path d="M382.69,1126.7V983.42H406.79V1126.7" fill="none" stroke="#94642a" stroke-width="3.2" stroke-linejoin="miter"/>
<rect x="424.48" y="1036.62" width="24.10" height="90.08" fill="#7f7fc4"/>
<path d="M424.48,1126.7V1036.62H448.58V1126.7" fill="none" stroke="#000090" stroke-width="3.2" stroke-linejoin="miter"/>
<rect x="466.27" y="1036.62" width="24.10" height="90.08" fill="#b27daa"/>
<path d="M466.27,1126.7V1036.62H490.37V1126.7" fill="none" stroke="#660055" stroke-width="3.2" stroke-linejoin="miter"/>
<path d="M144.0,1067.5906V1075.5906M138.0,1067.5906H150.0M138.0,1075.5906H150.0" stroke="#0000f0" stroke-width="1.3" fill="none" opacity="0.75"/>
<circle cx="133.8" cy="1064.0" r="4.0" fill="#0000f0"/>
<circle cx="140.6" cy="1060.8" r="4.0" fill="#0000f0"/>
<circle cx="146.6" cy="1064.4" r="4.0" fill="#0000f0"/>
<circle cx="153.4" cy="1063.6" r="4.0" fill="#0000f0"/>
<circle cx="143.4" cy="1077.3" r="4.0" fill="#0000f0"/>
<circle cx="143.4" cy="1088.5" r="4.0" fill="#0000f0"/>
<path d="M185.79,1074.0027V1082.0027M179.79,1074.0027H191.79M179.79,1082.0027H191.79" stroke="#ee1111" stroke-width="1.3" fill="none" opacity="0.75"/>
<circle cx="175.9" cy="1064.8" r="4.0" fill="#ee1111"/>
<circle cx="195.5" cy="1061.2" r="4.0" fill="#ee1111"/>
<circle cx="175.9" cy="1078.5" r="4.0" fill="#ee1111"/>
<circle cx="195.1" cy="1076.9" r="4.0" fill="#ee1111"/>
<circle cx="194.7" cy="1089.7" r="4.0" fill="#ee1111"/>
<circle cx="176.3" cy="1094.5" r="4.0" fill="#ee1111"/>
<path d="M227.57999999999998,1075.6959V1081.6959M221.57999999999998,1075.6959H233.57999999999998M221.57999999999998,1081.6959H233.57999999999998" stroke="#11bb11" stroke-width="1.3" fill="none" opacity="0.75"/>
<circle cx="224.4" cy="1070.4" r="4.0" fill="#11bb11"/>
<circle cx="217.1" cy="1077.7" r="4.0" fill="#11bb11"/>
<circle cx="237.2" cy="1077.7" r="4.0" fill="#11bb11"/>
<circle cx="227.6" cy="1081.7" r="4.0" fill="#11bb11"/>
<circle cx="218.8" cy="1083.3" r="4.0" fill="#11bb11"/>
<circle cx="227.6" cy="1097.7" r="4.0" fill="#11bb11"/>
<path d="M269.37,957.6912000000001V971.2912M263.37,957.6912000000001H275.37M263.37,971.2912H275.37" stroke="#aa00ee" stroke-width="1.3" fill="none" opacity="0.75"/>
<circle cx="269.0" cy="950.6" r="4.0" fill="#aa00ee"/>
<circle cx="279.7" cy="943.8" r="4.0" fill="#aa00ee"/>
<circle cx="259.3" cy="963.2" r="4.0" fill="#aa00ee"/>
<circle cx="278.7" cy="965.1" r="4.0" fill="#aa00ee"/>
<circle cx="269.0" cy="972.9" r="4.0" fill="#aa00ee"/>
<circle cx="269.0" cy="981.6" r="4.0" fill="#aa00ee"/>
<path d="M311.15999999999997,934.2831000000001V940.2831000000001M305.15999999999997,934.2831000000001H317.15999999999997M305.15999999999997,940.2831000000001H317.15999999999997" stroke="#ff8000" stroke-width="1.3" fill="none" opacity="0.75"/>
<circle cx="301.9" cy="926.4" r="4.0" fill="#ff8000"/>
<circle cx="321.3" cy="925.5" r="4.0" fill="#ff8000"/>
<circle cx="301.9" cy="938.0" r="4.0" fill="#ff8000"/>
<circle cx="321.3" cy="936.1" r="4.0" fill="#ff8000"/>
<circle cx="301.9" cy="953.5" r="4.0" fill="#ff8000"/>
<circle cx="321.3" cy="947.7" r="4.0" fill="#ff8000"/>
<path d="M352.95,1001.0434V1009.0434M346.95,1001.0434H358.95M346.95,1009.0434H358.95" stroke="#000000" stroke-width="1.3" fill="none" opacity="0.75"/>
<circle cx="353.2" cy="985.4" r="4.0" fill="#000000"/>
<circle cx="347.4" cy="996.1" r="4.0" fill="#000000"/>
<circle cx="359.0" cy="996.1" r="4.0" fill="#000000"/>
<circle cx="343.5" cy="1016.4" r="4.0" fill="#000000"/>
<circle cx="353.2" cy="1012.5" r="4.0" fill="#000000"/>
<circle cx="362.8" cy="1013.5" r="4.0" fill="#000000"/>
<path d="M394.74,975.0212000000001V988.6212M388.74,975.0212000000001H400.74M388.74,988.6212H400.74" stroke="#94642a" stroke-width="1.3" fill="none" opacity="0.75"/>
<circle cx="385.1" cy="962.2" r="4.0" fill="#94642a"/>
<circle cx="404.4" cy="958.4" r="4.0" fill="#94642a"/>
<circle cx="394.8" cy="974.8" r="4.0" fill="#94642a"/>
<circle cx="404.4" cy="993.2" r="4.0" fill="#94642a"/>
<circle cx="387.0" cy="988.3" r="4.0" fill="#94642a"/>
<circle cx="394.8" cy="1006.7" r="4.0" fill="#94642a"/>
<path d="M436.53,1028.2243V1041.8243M430.53,1028.2243H442.53M430.53,1041.8243H442.53" stroke="#000090" stroke-width="1.3" fill="none" opacity="0.75"/>
<circle cx="447.0" cy="1012.5" r="4.0" fill="#000090"/>
<circle cx="436.4" cy="1021.2" r="4.0" fill="#000090"/>
<circle cx="436.4" cy="1033.8" r="4.0" fill="#000090"/>
<circle cx="445.1" cy="1043.5" r="4.0" fill="#000090"/>
<circle cx="436.4" cy="1043.5" r="4.0" fill="#000090"/>
<circle cx="426.7" cy="1050.2" r="4.0" fill="#000090"/>
<path d="M478.32,1030.2243V1039.8243M472.32,1030.2243H484.32M472.32,1039.8243H484.32" stroke="#660055" stroke-width="1.3" fill="none" opacity="0.75"/>
<circle cx="469.3" cy="1015.4" r="4.0" fill="#660055"/>
<circle cx="478.9" cy="1024.1" r="4.0" fill="#660055"/>
<circle cx="468.3" cy="1034.8" r="4.0" fill="#660055"/>
<circle cx="488.6" cy="1038.6" r="4.0" fill="#660055"/>
<circle cx="478.9" cy="1040.6" r="4.0" fill="#660055"/>
<circle cx="478.9" cy="1053.1" r="4.0" fill="#660055"/>
<path d="M116.1,865.25V1126.7H507.5" stroke="#000" stroke-width="3.0" fill="none" stroke-linecap="butt" stroke-linejoin="miter"/>
<circle cx="507.5" cy="1126.7" r="1.5" fill="#000"/>
<path d="M107.1,1126.70H116.1" stroke="#000" stroke-width="3.0"/>
<text transform="translate(104.7,1126.70) scale(1,1.05)" y="9.26" font-size="26" text-anchor="end" fill="#111">0</text>
<path d="M107.1,1040.05H116.1" stroke="#000" stroke-width="3.0"/>
<text transform="translate(104.7,1040.05) scale(1,1.05)" y="9.26" font-size="26" text-anchor="end" fill="#111">50</text>
<path d="M107.1,953.40H116.1" stroke="#000" stroke-width="3.0"/>
<text transform="translate(104.7,953.40) scale(1,1.05)" y="9.26" font-size="26" text-anchor="end" fill="#111">100</text>
<path d="M107.1,866.75H116.1" stroke="#000" stroke-width="3.0"/>
<text transform="translate(104.7,866.75) scale(1,1.05)" y="9.26" font-size="26" text-anchor="end" fill="#111">150</text>
<path d="M144.0,1126.7V1136.3" stroke="#000" stroke-width="3.0"/>
<text transform="translate(153.23,1182.03) rotate(-90)" font-size="26" text-anchor="middle" textLength="87.15" lengthAdjust="spacing" fill="#111">Control</text>
<path d="M185.79,1126.7V1136.3" stroke="#000" stroke-width="3.0"/>
<text transform="translate(195.02,1180.25) rotate(-90)" font-size="26" text-anchor="middle" textLength="82.11" lengthAdjust="spacing" fill="#111">CA200</text>
<path d="M227.57999999999998,1126.7V1136.3" stroke="#000" stroke-width="3.0"/>
<text transform="translate(236.81,1180.25) rotate(-90)" font-size="26" text-anchor="middle" textLength="82.11" lengthAdjust="spacing" fill="#111">CA400</text>
<path d="M269.37,1126.7V1136.3" stroke="#000" stroke-width="3.0"/>
<text transform="translate(278.60,1181.02) rotate(-90)" font-size="26" text-anchor="middle" textLength="83.65" lengthAdjust="spacing" fill="#111">BPA10</text>
<path d="M311.15999999999997,1126.7V1136.3" stroke="#000" stroke-width="3.0"/>
<text transform="translate(320.39,1188.57) rotate(-90)" font-size="26" text-anchor="middle" textLength="98.75" lengthAdjust="spacing" fill="#111">BPA100</text>
<path d="M352.95,1126.7V1136.3" stroke="#000" stroke-width="3.0"/>
<text transform="translate(362.18,1230.32) rotate(-90)" font-size="26" text-anchor="middle" textLength="182.25" lengthAdjust="spacing" fill="#111">BPA10+CA200</text>
<path d="M394.74,1126.7V1136.3" stroke="#000" stroke-width="3.0"/>
<text transform="translate(403.97,1237.67) rotate(-90)" font-size="26" text-anchor="middle" textLength="196.95" lengthAdjust="spacing" fill="#111">BPA100+CA200</text>
<path d="M436.53,1126.7V1136.3" stroke="#000" stroke-width="3.0"/>
<text transform="translate(445.76,1230.32) rotate(-90)" font-size="26" text-anchor="middle" textLength="182.25" lengthAdjust="spacing" fill="#111">BPA10+CA400</text>
<path d="M478.32,1126.7V1136.3" stroke="#000" stroke-width="3.0"/>
<text transform="translate(487.55,1237.67) rotate(-90)" font-size="26" text-anchor="middle" textLength="196.95" lengthAdjust="spacing" fill="#111">BPA100+CA400</text>
<text transform="translate(46.60,991.20) rotate(-90)" font-size="29.3" font-weight="bold" text-anchor="middle" textLength="175.16" lengthAdjust="spacing" fill="#000">LDL (mg/dL)</text>
<text x="7" y="758" font-size="44.3" letter-spacing="1.6" fill="#111">[d]</text>
<path d="M144.2,786.8V750H307V786.8" stroke="#2a2a2a" stroke-width="2.6" fill="none" stroke-linejoin="round"/>
<use href="#st100" x="201.15" y="732.70"/>
<use href="#st100" x="217.25" y="732.70"/>
<use href="#st100" x="233.35" y="732.70"/>
<use href="#st100" x="249.45" y="732.70"/>
<path d="M315.4,761.7V750H479V863.6" stroke="#2a2a2a" stroke-width="2.6" fill="none" stroke-linejoin="round"/>
<use href="#st100" x="373.05" y="732.70"/>
<use href="#st100" x="389.15" y="732.70"/>
<use href="#st100" x="405.25" y="732.70"/>
<use href="#st100" x="421.35" y="732.70"/>
<path d="M144.2,836.8V799.5H265.4V836.8" stroke="#2a2a2a" stroke-width="2.6" fill="none" stroke-linejoin="round"/>
<use href="#st100" x="180.15" y="782.80"/>
<use href="#st100" x="196.25" y="782.80"/>
<use href="#st100" x="212.35" y="782.80"/>
<use href="#st100" x="228.45" y="782.80"/>
<path d="M273.7,837V799.5H436.6V836.8" stroke="#2a2a2a" stroke-width="2.6" fill="none" stroke-linejoin="round"/>
<use href="#st100" x="331.35" y="782.80"/>
<use href="#st100" x="347.45" y="782.80"/>
<use href="#st100" x="363.55" y="782.80"/>
<use href="#st100" x="379.65" y="782.80"/>
<path d="M144.2,865.2V850.2H227.4V1056.5" stroke="#2a2a2a" stroke-width="2.6" fill="none" stroke-linejoin="round"/>
<text x="185.2" y="839.9" font-size="19.5" text-anchor="middle" textLength="18.52" lengthAdjust="spacingAndGlyphs" fill="#383838">ns</text>
<path d="M269.7,865V850.2H348.8V865" stroke="#2a2a2a" stroke-width="2.6" fill="none" stroke-linejoin="round"/>
<use href="#st100" x="292.60" y="833.50"/>
<use href="#st100" x="308.70" y="833.50"/>
<use href="#st100" x="324.80" y="833.50"/>
<path d="M357.1,865V850.2H436.6V865" stroke="#2a2a2a" stroke-width="2.6" fill="none" stroke-linejoin="round"/>
<use href="#st100" x="388.45" y="833.50"/>
<use href="#st100" x="404.55" y="833.50"/>
<path d="M144,1047.6V900.3H185.3V1047.6" stroke="#2a2a2a" stroke-width="2.6" fill="none" stroke-linejoin="round"/>
<text x="165.0" y="890.7" font-size="19.5" text-anchor="middle" textLength="18.52" lengthAdjust="spacingAndGlyphs" fill="#383838">ns</text>
<path d="M269.4,930.3V900.3H307V912" stroke="#2a2a2a" stroke-width="2.6" fill="none" stroke-linejoin="round"/>
<use href="#st100" x="287.70" y="884.00"/>
<path d="M315.4,912V900.3H390.5V945.3" stroke="#2a2a2a" stroke-width="2.6" fill="none" stroke-linejoin="round"/>
<use href="#st100" x="328.95" y="884.00"/>
<use href="#st100" x="345.05" y="884.00"/>
<use href="#st100" x="361.15" y="884.00"/>
<use href="#st100" x="377.25" y="884.00"/>
<path d="M398.9,945.3V900.3H479V1002" stroke="#2a2a2a" stroke-width="2.6" fill="none" stroke-linejoin="round"/>
<use href="#st100" x="414.75" y="884.00"/>
<use href="#st100" x="430.85" y="884.00"/>
<use href="#st100" x="446.95" y="884.00"/>
<use href="#st100" x="463.05" y="884.00"/>
<rect x="658.90" y="1034.24" width="21.80" height="89.26" fill="#ffffff"/>
<path d="M658.90,1123.5V1034.24H680.70V1123.5" fill="none" stroke="#0000f0" stroke-width="3.2" stroke-linejoin="miter"/>
<rect x="698.60" y="1033.41" width="21.80" height="90.09" fill="#ffffff"/>
<path d="M698.60,1123.5V1033.41H720.40V1123.5" fill="none" stroke="#ee1111" stroke-width="3.2" stroke-linejoin="miter"/>
<rect x="738.30" y="1038.37" width="21.80" height="85.13" fill="#ffffff"/>
<path d="M738.30,1123.5V1038.37H760.10V1123.5" fill="none" stroke="#11bb11" stroke-width="3.2" stroke-linejoin="miter"/>
<rect x="778.00" y="959.90" width="21.80" height="163.60" fill="#d77ff2"/>
<path d="M778.00,1123.5V959.90H799.80V1123.5" fill="none" stroke="#aa00ee" stroke-width="3.2" stroke-linejoin="miter"/>
<rect x="817.70" y="932.64" width="21.80" height="190.86" fill="#fdbf80"/>
<path d="M817.70,1123.5V932.64H839.50V1123.5" fill="none" stroke="#ff8000" stroke-width="3.2" stroke-linejoin="miter"/>
<rect x="857.40" y="1007.39" width="21.80" height="116.11" fill="#808080"/>
<path d="M857.40,1123.5V1007.39H879.20V1123.5" fill="none" stroke="#000000" stroke-width="3.2" stroke-linejoin="miter"/>
<rect x="897.10" y="1005.33" width="21.80" height="118.17" fill="#caac89"/>
<path d="M897.10,1123.5V1005.33H918.90V1123.5" fill="none" stroke="#94642a" stroke-width="3.2" stroke-linejoin="miter"/>
<rect x="936.80" y="1023.09" width="21.80" height="100.41" fill="#7f7fc4"/>
<path d="M936.80,1123.5V1023.09H958.60V1123.5" fill="none" stroke="#000090" stroke-width="3.2" stroke-linejoin="miter"/>
<rect x="976.50" y="1010.29" width="21.80" height="113.21" fill="#b27daa"/>
<path d="M976.50,1123.5V1010.29H998.30V1123.5" fill="none" stroke="#660055" stroke-width="3.2" stroke-linejoin="miter"/>
<path d="M669.8,1026.64V1038.64M663.8,1026.64H675.8M663.8,1038.64H675.8" stroke="#0000f0" stroke-width="1.3" fill="none" opacity="0.75"/>
<circle cx="660.4" cy="1020.0" r="4.0" fill="#0000f0"/>
<circle cx="679.2" cy="1016.7" r="4.0" fill="#0000f0"/>
<circle cx="660.4" cy="1031.9" r="4.0" fill="#0000f0"/>
<circle cx="679.2" cy="1027.7" r="4.0" fill="#0000f0"/>
<circle cx="669.8" cy="1040.2" r="4.0" fill="#0000f0"/>
<circle cx="669.8" cy="1055.4" r="4.0" fill="#0000f0"/>
<path d="M709.5,1026.814V1036.814M703.5,1026.814H715.5M703.5,1036.814H715.5" stroke="#ee1111" stroke-width="1.3" fill="none" opacity="0.75"/>
<circle cx="709.4" cy="1017.3" r="4.0" fill="#ee1111"/>
<circle cx="718.8" cy="1025.6" r="4.0" fill="#ee1111"/>
<circle cx="705.2" cy="1030.8" r="4.0" fill="#ee1111"/>
<circle cx="713.5" cy="1032.9" r="4.0" fill="#ee1111"/>
<circle cx="718.8" cy="1037.0" r="4.0" fill="#ee1111"/>
<circle cx="701.0" cy="1043.3" r="4.0" fill="#ee1111"/>
<path d="M749.1999999999999,1029.77V1043.77M743.1999999999999,1029.77H755.1999999999999M743.1999999999999,1043.77H755.1999999999999" stroke="#11bb11" stroke-width="1.3" fill="none" opacity="0.75"/>
<circle cx="740.0" cy="1018.3" r="4.0" fill="#11bb11"/>
<circle cx="749.0" cy="1021.5" r="4.0" fill="#11bb11"/>
<circle cx="758.3" cy="1025.2" r="4.0" fill="#11bb11"/>
<circle cx="749.0" cy="1031.9" r="4.0" fill="#11bb11"/>
<circle cx="753.8" cy="1056.9" r="4.0" fill="#11bb11"/>
<circle cx="744.4" cy="1062.0" r="4.0" fill="#11bb11"/>
<path d="M788.9,946.3V970.3M782.9,946.3H794.9M782.9,970.3H794.9" stroke="#aa00ee" stroke-width="1.3" fill="none" opacity="0.75"/>
<circle cx="779.6" cy="931.2" r="4.0" fill="#aa00ee"/>
<circle cx="797.9" cy="928.8" r="4.0" fill="#aa00ee"/>
<circle cx="797.9" cy="936.0" r="4.0" fill="#aa00ee"/>
<circle cx="789.2" cy="966.2" r="4.0" fill="#aa00ee"/>
<circle cx="789.2" cy="984.0" r="4.0" fill="#aa00ee"/>
<circle cx="789.2" cy="994.4" r="4.0" fill="#aa00ee"/>
<path d="M828.5999999999999,919.042V943.042M822.5999999999999,919.042H834.5999999999999M822.5999999999999,943.042H834.5999999999999" stroke="#ff8000" stroke-width="1.3" fill="none" opacity="0.75"/>
<circle cx="828.4" cy="899.6" r="4.0" fill="#ff8000"/>
<circle cx="818.8" cy="911.0" r="4.0" fill="#ff8000"/>
<circle cx="837.5" cy="915.8" r="4.0" fill="#ff8000"/>
<circle cx="828.4" cy="932.9" r="4.0" fill="#ff8000"/>
<circle cx="828.4" cy="941.2" r="4.0" fill="#ff8000"/>
<circle cx="828.4" cy="978.8" r="4.0" fill="#ff8000"/>
<path d="M868.3,1000.795V1010.795M862.3,1000.795H874.3M862.3,1010.795H874.3" stroke="#000000" stroke-width="1.3" fill="none" opacity="0.75"/>
<circle cx="859.2" cy="995.4" r="4.0" fill="#000000"/>
<circle cx="877.5" cy="993.3" r="4.0" fill="#000000"/>
<circle cx="859.2" cy="1006.9" r="4.0" fill="#000000"/>
<circle cx="877.5" cy="1003.8" r="4.0" fill="#000000"/>
<circle cx="877.5" cy="1014.2" r="4.0" fill="#000000"/>
<circle cx="867.5" cy="1022.5" r="4.0" fill="#000000"/>
<path d="M908.0,998.73V1008.73M902.0,998.73H914.0M902.0,1008.73H914.0" stroke="#94642a" stroke-width="1.3" fill="none" opacity="0.75"/>
<circle cx="898.8" cy="993.3" r="4.0" fill="#94642a"/>
<circle cx="907.5" cy="993.3" r="4.0" fill="#94642a"/>
<circle cx="917.5" cy="988.1" r="4.0" fill="#94642a"/>
<circle cx="917.5" cy="997.5" r="4.0" fill="#94642a"/>
<circle cx="912.3" cy="1019.4" r="4.0" fill="#94642a"/>
<circle cx="902.9" cy="1024.6" r="4.0" fill="#94642a"/>
<path d="M947.7,1017.489V1025.489M941.7,1017.489H953.7M941.7,1025.489H953.7" stroke="#000090" stroke-width="1.3" fill="none" opacity="0.75"/>
<circle cx="938.3" cy="1008.3" r="4.0" fill="#000090"/>
<circle cx="947.7" cy="1014.2" r="4.0" fill="#000090"/>
<circle cx="938.3" cy="1022.5" r="4.0" fill="#000090"/>
<circle cx="957.0" cy="1024.6" r="4.0" fill="#000090"/>
<circle cx="938.3" cy="1032.9" r="4.0" fill="#000090"/>
<circle cx="947.7" cy="1021.5" r="4.0" fill="#000090"/>
<path d="M987.4,1003.686V1013.686M981.4,1003.686H993.4M981.4,1013.686H993.4" stroke="#660055" stroke-width="1.3" fill="none" opacity="0.75"/>
<circle cx="987.3" cy="984.6" r="4.0" fill="#660055"/>
<circle cx="996.7" cy="1003.3" r="4.0" fill="#660055"/>
<circle cx="977.9" cy="1009.0" r="4.0" fill="#660055"/>
<circle cx="987.3" cy="1014.2" r="4.0" fill="#660055"/>
<circle cx="996.7" cy="1014.2" r="4.0" fill="#660055"/>
<circle cx="987.3" cy="1025.6" r="4.0" fill="#660055"/>
<path d="M643.7,874.20V1123.5H1014.4" stroke="#000" stroke-width="3.0" fill="none" stroke-linecap="butt" stroke-linejoin="miter"/>
<circle cx="1014.4" cy="1123.5" r="1.5" fill="#000"/>
<path d="M634.7,1123.50H643.7" stroke="#000" stroke-width="3.0"/>
<text transform="translate(632.3,1123.50) scale(1,1.05)" y="9.15" font-size="25.7" text-anchor="end" fill="#111">0</text>
<path d="M634.7,1040.90H643.7" stroke="#000" stroke-width="3.0"/>
<text transform="translate(632.3,1040.90) scale(1,1.05)" y="9.15" font-size="25.7" text-anchor="end" fill="#111">10</text>
<path d="M634.7,958.30H643.7" stroke="#000" stroke-width="3.0"/>
<text transform="translate(632.3,958.30) scale(1,1.05)" y="9.15" font-size="25.7" text-anchor="end" fill="#111">20</text>
<path d="M634.7,875.70H643.7" stroke="#000" stroke-width="3.0"/>
<text transform="translate(632.3,875.70) scale(1,1.05)" y="9.15" font-size="25.7" text-anchor="end" fill="#111">30</text>
<path d="M669.8,1123.5V1132.5" stroke="#000" stroke-width="3.0"/>
<text transform="translate(678.67,1175.99) rotate(-90)" font-size="25" text-anchor="middle" textLength="82.53" lengthAdjust="spacing" fill="#111">Control</text>
<path d="M709.5,1123.5V1132.5" stroke="#000" stroke-width="3.0"/>
<text transform="translate(718.38,1174.14) rotate(-90)" font-size="25" text-anchor="middle" textLength="77.42" lengthAdjust="spacing" fill="#111">CA200</text>
<path d="M749.1999999999999,1123.5V1132.5" stroke="#000" stroke-width="3.0"/>
<text transform="translate(758.07,1174.14) rotate(-90)" font-size="25" text-anchor="middle" textLength="77.42" lengthAdjust="spacing" fill="#111">CA400</text>
<path d="M788.9,1123.5V1132.5" stroke="#000" stroke-width="3.0"/>
<text transform="translate(797.77,1174.95) rotate(-90)" font-size="25" text-anchor="middle" textLength="79.03" lengthAdjust="spacing" fill="#111">BPA10</text>
<path d="M828.5999999999999,1123.5V1132.5" stroke="#000" stroke-width="3.0"/>
<text transform="translate(837.47,1182.10) rotate(-90)" font-size="25" text-anchor="middle" textLength="93.33" lengthAdjust="spacing" fill="#111">BPA100</text>
<path d="M868.3,1123.5V1132.5" stroke="#000" stroke-width="3.0"/>
<text transform="translate(877.17,1221.90) rotate(-90)" font-size="25" text-anchor="middle" textLength="172.93" lengthAdjust="spacing" fill="#111">BPA10+CA200</text>
<path d="M908.0,1123.5V1132.5" stroke="#000" stroke-width="3.0"/>
<text transform="translate(916.88,1228.90) rotate(-90)" font-size="25" text-anchor="middle" textLength="186.93" lengthAdjust="spacing" fill="#111">BPA100+CA200</text>
<path d="M947.7,1123.5V1132.5" stroke="#000" stroke-width="3.0"/>
<text transform="translate(956.58,1221.90) rotate(-90)" font-size="25" text-anchor="middle" textLength="172.93" lengthAdjust="spacing" fill="#111">BPA10+CA400</text>
<path d="M987.4,1123.5V1132.5" stroke="#000" stroke-width="3.0"/>
<text transform="translate(996.27,1228.90) rotate(-90)" font-size="25" text-anchor="middle" textLength="186.93" lengthAdjust="spacing" fill="#111">BPA100+CA400</text>
<text transform="translate(592.00,994.36) rotate(-90)" font-size="27.5" font-weight="bold" text-anchor="middle" textLength="184.30" lengthAdjust="spacing" fill="#000">VLDL (mg/dL)</text>
<text x="541.8" y="758" font-size="44.3" letter-spacing="1.6" fill="#111">[e]</text>
<path d="M669.5,768.4V732.7H824.4V768.4" stroke="#2a2a2a" stroke-width="2.6" fill="none" stroke-linejoin="round"/>
<use href="#st95" x="723.90" y="716.70"/>
<use href="#st95" x="739.30" y="716.70"/>
<use href="#st95" x="754.70" y="716.70"/>
<use href="#st95" x="770.10" y="716.70"/>
<path d="M832,743.4V732.7H987.3V863.6" stroke="#2a2a2a" stroke-width="2.6" fill="none" stroke-linejoin="round"/>
<use href="#st95" x="885.70" y="716.70"/>
<use href="#st95" x="901.10" y="716.70"/>
<use href="#st95" x="916.50" y="716.70"/>
<use href="#st95" x="931.90" y="716.70"/>
<path d="M669.5,816.2V780.1H784.3V816.2" stroke="#2a2a2a" stroke-width="2.6" fill="none" stroke-linejoin="round"/>
<use href="#st95" x="703.90" y="764.10"/>
<use href="#st95" x="719.30" y="764.10"/>
<use href="#st95" x="734.70" y="764.10"/>
<use href="#st95" x="750.10" y="764.10"/>
<path d="M793,815.5V780.1H947.2V816.2" stroke="#2a2a2a" stroke-width="2.6" fill="none" stroke-linejoin="round"/>
<use href="#st95" x="846.70" y="764.10"/>
<use href="#st95" x="862.10" y="764.10"/>
<use href="#st95" x="877.50" y="764.10"/>
<use href="#st95" x="892.90" y="764.10"/>
<path d="M669.5,843.5V828.5H749.1V1004.8" stroke="#2a2a2a" stroke-width="2.6" fill="none" stroke-linejoin="round"/>
<text x="709.6" y="817.6" font-size="18.5" text-anchor="middle" textLength="17.57" lengthAdjust="spacingAndGlyphs" fill="#383838">ns</text>
<path d="M788.7,843.5V828.5H864.4V843.5" stroke="#2a2a2a" stroke-width="2.6" fill="none" stroke-linejoin="round"/>
<use href="#st95" x="811.00" y="812.80"/>
<use href="#st95" x="826.40" y="812.80"/>
<use href="#st95" x="841.80" y="812.80"/>
<path d="M872.1,843.5V828.5H947.2V843.5" stroke="#2a2a2a" stroke-width="2.6" fill="none" stroke-linejoin="round"/>
<text x="909.8" y="817.6" font-size="18.5" text-anchor="middle" textLength="17.57" lengthAdjust="spacingAndGlyphs" fill="#383838">ns</text>
<path d="M669.8,1003.75V876.5H709.2V1003.75" stroke="#2a2a2a" stroke-width="2.6" fill="none" stroke-linejoin="round"/>
<text x="689.5" y="865.7" font-size="18.5" text-anchor="middle" textLength="17.57" lengthAdjust="spacingAndGlyphs" fill="#383838">ns</text>
<path d="M789.2,915.2V876.5H824.2V887.5" stroke="#2a2a2a" stroke-width="2.6" fill="none" stroke-linejoin="round"/>
<text x="806.4" y="865.7" font-size="18.5" text-anchor="middle" textLength="17.57" lengthAdjust="spacingAndGlyphs" fill="#383838">ns</text>
<path d="M832.3,887.5V876.5H903.5V975.6" stroke="#2a2a2a" stroke-width="2.6" fill="none" stroke-linejoin="round"/>
<use href="#st95" x="844.70" y="860.90"/>
<use href="#st95" x="860.10" y="860.90"/>
<use href="#st95" x="875.50" y="860.90"/>
<use href="#st95" x="890.90" y="860.90"/>
<path d="M911.9,975.6V876.5H987V972.5" stroke="#2a2a2a" stroke-width="2.6" fill="none" stroke-linejoin="round"/>
<text x="948.9" y="865.7" font-size="18.5" text-anchor="middle" textLength="17.57" lengthAdjust="spacingAndGlyphs" fill="#383838">ns</text>
</svg></div>
</body></html>
